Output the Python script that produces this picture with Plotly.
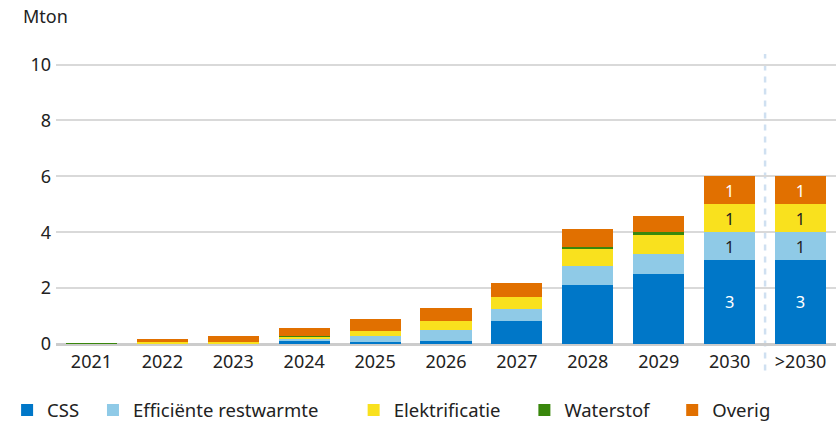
import plotly.graph_objects as go

years = ['2021', '2022', '2023', '2024', '2025', '2026', '2027', '2028', '2029', '2030', '>2030']
css = [0.01, 0, 0, 0.09, 0.08, 0.1, 0.81, 2.1, 2.5, 3, 3]
restwarmte = [0.01, 0, 0, 0.1, 0.2, 0.39, 0.46, 0.68, 0.72, 1, 1]
elektrificatie = [0, 0.08, 0.08, 0.07, 0.18, 0.32, 0.43, 0.61, 0.68, 1, 1]
waterstof = [0.01, 0, 0, 0.02, 0, 0, 0, 0.1, 0.1, 0, 0]
overig = [0, 0.1, 0.2, 0.29, 0.43, 0.47, 0.47, 0.61, 0.57, 1, 1]

# only the last two bars carry value labels
def labels(vals):
    return ['' if i < 9 else f'{v:g}' for i, v in enumerate(vals)]

font = 'Noto Sans'
series = [
    ('CSS', css, '#0077c8', 'white', 'legend', -0.0627),
    ('Efficiënte restwarmte', restwarmte, '#8fcae7', '#222222', 'legend2', 0.0474),
    ('Elektrificatie', elektrificatie, '#f9e11e', '#222222', 'legend3', 0.3816),
    ('Waterstof', waterstof, '#39870c', 'white', 'legend4', 0.6005),
    ('Overig', overig, '#e17000', 'white', 'legend5', 0.790),
]

fig = go.Figure()
for name, vals, color, tcolor, leg, lx in series:
    fig.add_trace(go.Bar(
        x=years, y=vals, name=name, marker=dict(color=color, line=dict(width=0)),
        text=labels(vals), textposition='inside', insidetextanchor='middle',
        textfont=dict(family=font, size=18, color=tcolor), textangle=0,
        legend=leg, showlegend=True, hoverinfo='x+y+name',
    ))

legends = {}
for name, vals, color, tcolor, leg, lx in series:
    legends[leg] = dict(x=lx, y=-0.229, xanchor='left', yanchor='middle',
                        orientation='h', bgcolor='rgba(0,0,0,0)', visible=True,
                        font=dict(family=font, size=18.5, color='#222222'))

fig.update_layout(
    width=836, height=421,
    showlegend=True,
    barmode='stack', bargap=0.28,
    plot_bgcolor='white', paper_bgcolor='white',
    margin=dict(l=56, r=0, t=54, b=77, autoexpand=False),
    font=dict(family=font, size=18, color='#222222'),
    uniformtext=dict(mode='show', minsize=10),
    xaxis=dict(type='category', showgrid=False, showline=False, ticks='',
               ticklabelstandoff=5,
               tickfont=dict(family=font, size=18, color='#222222')),
    yaxis=dict(range=[0, 10.38], tickvals=[0, 2, 4, 6, 8, 10],
               showgrid=True, gridcolor='#d9d9d9', gridwidth=1.5,
               zeroline=True, zerolinecolor='#cccccc', zerolinewidth=2.5,
               showline=False, ticks='', ticklabelstandoff=4,
               tickfont=dict(family=font, size=18, color='#222222')),
    annotations=[dict(text='Mton', xref='paper', yref='paper', x=-0.045, y=1.13,
                      xanchor='left', yanchor='middle', showarrow=False,
                      font=dict(family=font, size=18, color='#222222'))],
    shapes=[dict(type='line', xref='x', yref='paper', x0=9.5, x1=9.5, y0=-0.091, y1=1.0,
                 line=dict(color='#cfe0f1', width=2.5, dash='6px,6px'), layer='below')],
    **legends,
)

fig.write_html('out.html', config={'displayModeBar': False},
               post_script="document.body.style.margin='0';")
